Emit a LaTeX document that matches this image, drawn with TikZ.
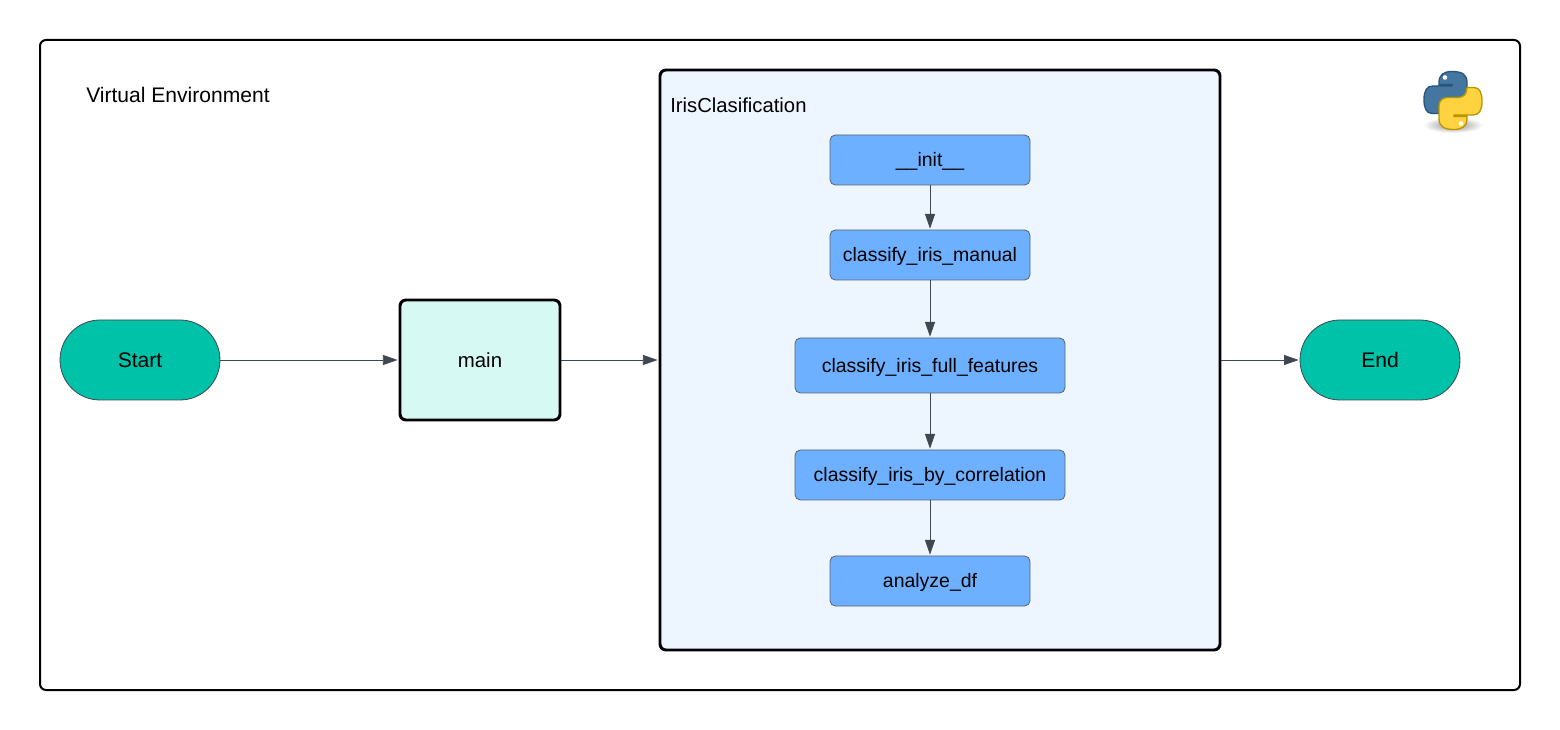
\documentclass[tikz,border=0pt]{standalone}
\usepackage{fontspec}
\setmainfont{Liberation Sans}
\usetikzlibrary{arrows.meta}
\definecolor{teal1}{HTML}{00C2A8}
\definecolor{mint1}{HTML}{D6F9F3}
\definecolor{pale1}{HTML}{EDF5FE}
\definecolor{blue1}{HTML}{6CB0FF}
\definecolor{edge1}{HTML}{3F4752}
\definecolor{pyblue}{HTML}{44769F}
\definecolor{pyblueline}{HTML}{2A5578}
\definecolor{pyyellow}{HTML}{FFD23F}
\definecolor{pyyellowline}{HTML}{B89600}
\newcommand{\pyhalf}{(-14,-18) .. controls (-14,-26) and (-9,-29) .. (-1,-29)
  .. controls (9,-29) and (14,-26) .. (14,-18) -- (14,-5)
  .. controls (14,0) and (10,3) .. (5,3) -- (-5,3)
  .. controls (-11,3) and (-14,7) .. (-14,13) -- (-21,13)
  .. controls (-27,13) and (-29,7) .. (-29,-1)
  .. controls (-29,-10) and (-26,-14.5) .. (-20,-14.5) -- (-1,-14.5) -- (-1,-16) -- (-14,-16) -- cycle}
\begin{document}
\begin{tikzpicture}[x=.75pt,y=-.75pt,
  every node/.style={text=black,inner sep=0pt,text height=10pt,text depth=0pt},
  bigtext/.style={font=\fontsize{#1}{18pt}\selectfont,text height=11.5pt},
  frame/.style={draw=black,line width=1.5pt,rounded corners=4.5pt},
  terminal/.style={draw=edge1,line width=.6pt,fill=teal1,rounded corners=30pt,minimum width=120pt,minimum height=60pt,bigtext=15.8pt},
  method/.style={draw=edge1!85,line width=.6pt,fill=blue1,rounded corners=4pt,minimum width=150pt,minimum height=37.5pt,font=\fontsize{14.6pt}{17pt}\selectfont},
  widemethod/.style={method,minimum width=202.5pt},
  link/.style={draw=edge1,line width=.6pt,-{Triangle[length=11pt,width=7.5pt]},shorten >=.7pt}]
\useasboundingbox (0,0) rectangle (1560,730);
\node[frame,minimum width=1110pt,minimum height=487.5pt] (venv) at (780,365) {};
\node[anchor=west,bigtext=15.8pt] (venvlabel) at (86,95) {Virtual Environment};
\node[frame,line width=2.2pt,fill=pale1,minimum width=420pt,minimum height=435pt] (iris) at (940,360) {};
\node[anchor=west,bigtext=15.2pt] (irislabel) at (670,105) {IrisClasification};
\node[terminal] (start) at (140,360) {Start};
\node[frame,line width=2.2pt,fill=mint1,minimum width=120pt,minimum height=90pt,bigtext=15.3pt] (main) at (480,360) {main};
\node[terminal] (end) at (1380,360) {End};
\node[method] (init) at (930,160) {\_\_init\_\_};
\node[method] (manual) at (930,255) {classify\_iris\_manual};
\node[widemethod,minimum height=41.25pt] (full) at (930,365.5) {classify\_iris\_full\_features};
\node[widemethod] (corr) at (930,475) {classify\_iris\_by\_correlation};
\node[method] (analyze) at (930,581) {analyze\_df};
\foreach \from/\to in {start/main,main/iris,iris/end,init/manual,manual/full,full/corr,corr/analyze}
\draw[link] (\from) -- (\to);
% python logo
\shade[inner color=gray!90,outer color=white] (1453,125) ellipse (30 and 8);
\begin{scope}[shift={(1453,100.5)}]
\draw[draw=pyblueline,fill=pyblue,line width=1pt] \pyhalf;
\fill[white] (-8,-23) circle (2.3);
\begin{scope}[rotate=180]
\draw[draw=pyyellowline,fill=pyyellow,line width=1pt] \pyhalf;
\fill[white] (-8,-23) circle (2.3);
\end{scope}
\end{scope}
\end{tikzpicture}
\end{document}
